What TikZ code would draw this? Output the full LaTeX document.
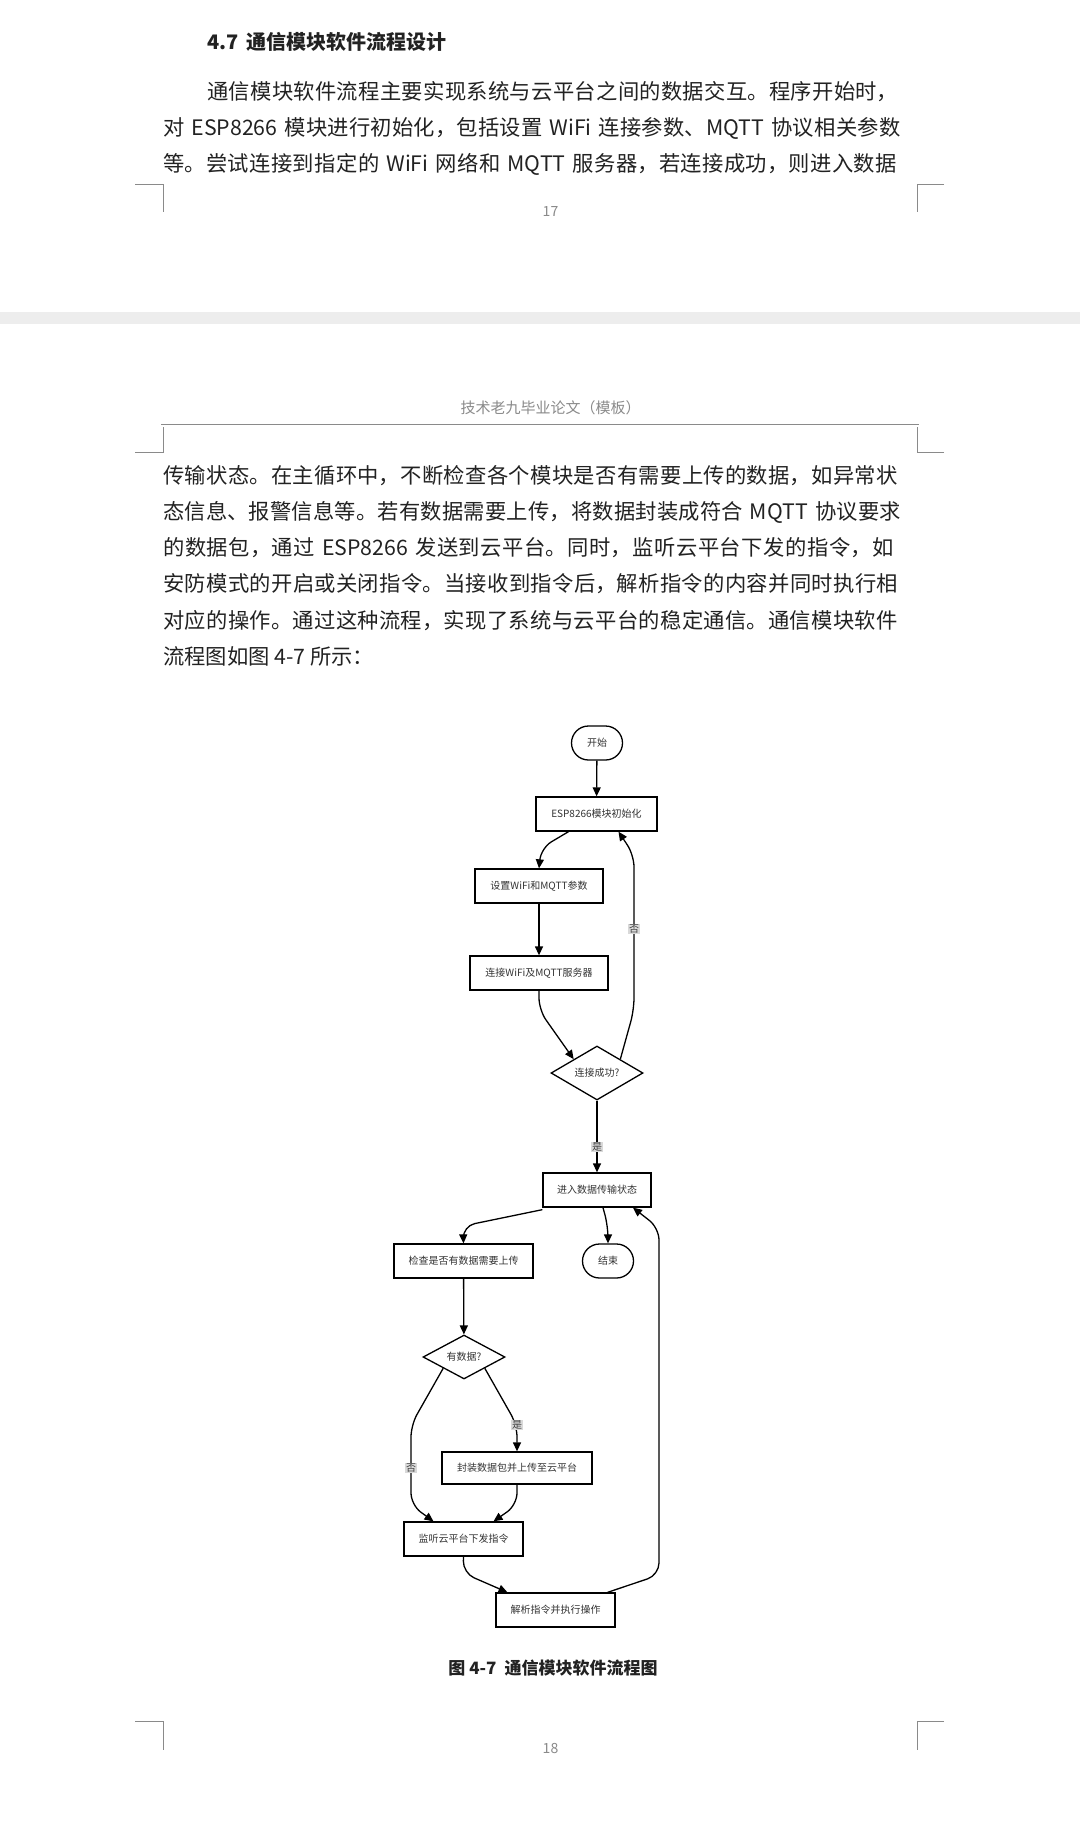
\documentclass[tikz,border=0pt]{standalone}
\usepackage{fontspec}
\setmainfont{Noto Sans CJK SC}
\usetikzlibrary{arrows.meta,shapes.geometric}
\XeTeXlinebreaklocale "zh"
\XeTeXlinebreakskip=0pt plus 2pt
\definecolor{txt}{HTML}{222222}
\definecolor{gr}{HTML}{8A8A8A}
\newcommand{\jl}[4]{\node[anchor=west,inner sep=0pt,text width=#3pt,font=\fontsize{21.3}{24}\selectfont,text=txt] (#1) at (#2) {\parfillskip=0pt\relax #4\par};}
\begin{document}
\begin{tikzpicture}[x=1pt,y=-1pt,
  box/.style={draw,line width=1.3pt,minimum height=34pt,inner sep=2pt,font=\fontsize{10}{12}\selectfont,text=black!80},
  term/.style={box,rounded corners=17pt,minimum width=51pt},
  dia/.style={draw,diamond,aspect=1,line width=1.3pt,inner sep=0pt,font=\fontsize{10}{12}\selectfont,text=black!80},
  arr/.style={line width=1.3pt,rounded corners=12pt,-{Triangle[length=9pt,width=8pt]}},
  lab/.style={fill=black!15,inner sep=1pt,font=\fontsize{10}{12}\selectfont,text=black!75}]
\useasboundingbox (0,0) rectangle (1080,1829);
\fill[white] (0,0) rectangle (1080,1829);
\fill[black!7] (0,312) rectangle (1080,324);
% page 1
\node[anchor=west,inner sep=0pt,font=\fontsize{20}{24}\selectfont\bfseries,text=txt] (title) at (207,42) {4.7\hspace{8pt}通信模块软件流程设计};
\jl{p1}{207,92}{698}{通信模块软件流程主要实现系统与云平台之间的数据交互。程序开始时，}
\jl{p2}{163,128}{742}{对 ESP8266 模块进行初始化，包括设置 WiFi 连接参数、MQTT 协议相关参数}
\jl{p3}{163,164.5}{742}{等。尝试连接到指定的 WiFi 网络和 MQTT 服务器，若连接成功，则进入数据}
\draw[gr,line width=0.8pt] (135,184) -- (163,184) -- (163,212);
\draw[gr,line width=0.8pt] (944,184) -- (917,184) -- (917,212);
\node[gr,font=\fontsize{14}{16}\selectfont] (n17) at (550.5,212) {17};
% page 2
\node[gr,font=\fontsize{15}{18}\selectfont] (hdr) at (550.5,408) {技术老九毕业论文（模板）};
\draw[gr,line width=0.8pt] (161,424.5) -- (919,424.5);
\draw[gr,line width=0.8pt] (135,452.5) -- (163,452.5) -- (163,427);
\draw[gr,line width=0.8pt] (944,452.5) -- (917,452.5) -- (917,427);
\jl{q1}{163,476}{742}{传输状态。在主循环中，不断检查各个模块是否有需要上传的数据，如异常状}
\jl{q2}{163,512}{742}{态信息、报警信息等。若有数据需要上传，将数据封装成符合 MQTT 协议要求}
\jl{q3}{163,548}{742}{的数据包，通过 ESP8266 发送到云平台。同时，监听云平台下发的指令，如}
\jl{q4}{163,584}{742}{安防模式的开启或关闭指令。当接收到指令后，解析指令的内容并同时执行相}
\jl{q5}{163,620.5}{742}{对应的操作。通过这种流程，实现了系统与云平台的稳定通信。通信模块软件}
\node[anchor=west,inner sep=0pt,font=\fontsize{21.3}{24}\selectfont,text=txt] (q6) at (163,656.6) {流程图如图 4-7 所示：};
% diagram
\node[term] (start) at (597,743) {开始};
\node[box,minimum width=121pt] (init) at (596.5,814) {ESP8266模块初始化};
\node[box,minimum width=128pt] (set) at (539,886) {设置WiFi和MQTT参数};
\node[box,minimum width=138pt] (conn) at (539,973) {连接WiFi及MQTT服务器};
\node[dia,minimum width=92pt] (ok) at (597,1073) {连接成功?};
\node[box,minimum width=108pt] (trans) at (597,1190) {进入数据传输状态};
\node[box,minimum width=139pt] (check) at (463.5,1261) {检查是否有数据需要上传};
\node[term] (end) at (608,1261) {结束};
\node[dia,minimum width=82pt] (has) at (464,1357) {有数据?};
\node[box,minimum width=150pt,minimum height=32pt] (pack) at (517,1468) {封装数据包并上传至云平台};
\node[box,minimum width=119pt] (listen) at (463.5,1539) {监听云平台下发指令};
\node[box,minimum width=119pt] (parse) at (555.5,1610) {解析指令并执行操作};
\coordinate (a1) at (541,848);
\coordinate (a2) at (539,1010);
\coordinate (a3) at (634,1010);
\coordinate (a4) at (634,855);
\coordinate (a5) at (463,1226);
\coordinate (a6) at (608,1226);
\coordinate (a7) at (517,1425);
\coordinate (a8) at (411,1425);
\coordinate (a9) at (411,1505);
\coordinate (a10) at (517,1505);
\coordinate (a11) at (463,1573);
\coordinate (a12) at (659,1575);
\coordinate (a13) at (659,1228);
\draw[arr] (start) -- (init);
\draw[arr] ([xshift=-28pt]init.south) -- (a1) -- (set.north);
\draw[arr] (set) -- (conn);
\draw[arr] (conn.south) -- (a2) -- (ok.north west);
\draw[arr] (ok.north east) -- (a3) -- (a4) -- ([xshift=22pt]init.south);
\node[lab] (no1) at (634,929) {否};
\draw[arr] (ok.south) -- (trans.north);
\node[lab] (yes1) at (597,1147) {是};
\draw[arr] ([yshift=-2pt]trans.south west) -- (a5) -- (check.north);
\draw[arr] ([xshift=6pt]trans.south) -- (a6) -- (end.north);
\draw[arr] (check) -- (has);
\draw[arr] (has.south east) -- (a7) -- (pack.north);
\node[lab] (yes2) at (517,1425) {是};
\draw[arr] (has.south west) -- (a8) -- (a9) -- ([xshift=-30pt]listen.north);
\node[lab] (no2) at (411,1468) {否};
\draw[arr] (pack.south) -- (a10) -- ([xshift=30pt]listen.north);
\draw[arr] (listen.south) -- (a11) -- ([xshift=-48pt]parse.north);
\draw[arr] ([xshift=52pt]parse.north) -- (a12) -- (a13) -- ([xshift=36pt]trans.south);
\node[font=\fontsize{17}{20}\selectfont\bfseries,text=txt] (cap) at (553,1668) {图 4-7\hspace{8pt}通信模块软件流程图};
\draw[gr,line width=0.8pt] (135,1721.5) -- (163,1721.5) -- (163,1749.5);
\draw[gr,line width=0.8pt] (944,1721.5) -- (917,1721.5) -- (917,1749.5);
\node[gr,font=\fontsize{14}{16}\selectfont] (n18) at (550.5,1748) {18};
\end{tikzpicture}
\end{document}
